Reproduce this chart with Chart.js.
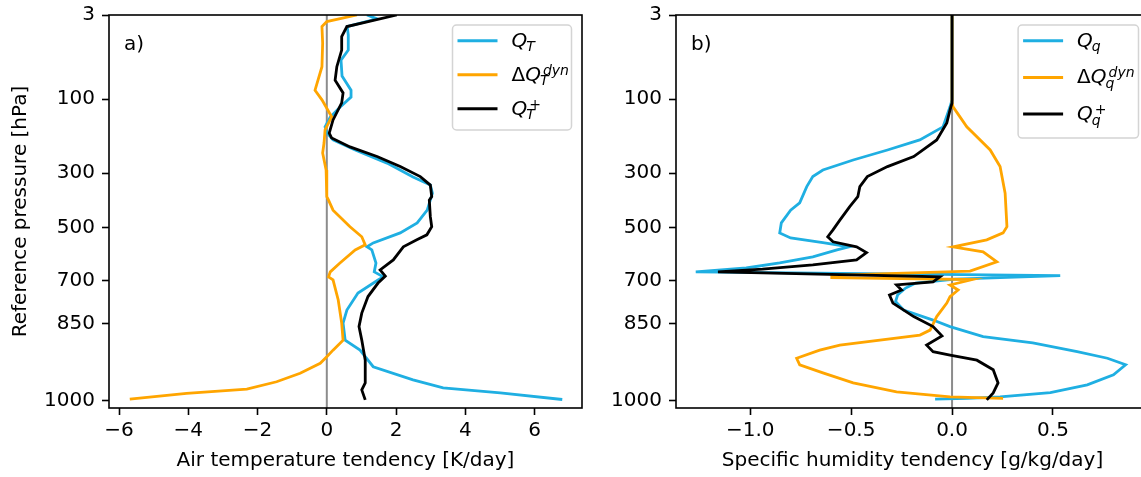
<!DOCTYPE html>
<html>
<head>
<meta charset="utf-8">
<script src="https://cdn.jsdelivr.net/npm/chart.js@4/dist/chart.umd.min.js"></script>
<style>
html,body{margin:0;padding:0;background:#fff;overflow:hidden;}
#wrap{position:relative;width:1141px;height:477px;overflow:hidden;}
canvas{position:absolute;top:0;}
#cA{left:0;}
#cB{left:590px;}
</style>
</head>
<body>
<div id="wrap">
  <canvas id="cA" width="600" height="477"></canvas>
  <canvas id="cB" width="559" height="477"></canvas>
</div>
<script>
// y axis is a model-level coordinate (0 = 3 hPa at top, 100 = 1000 hPa), labelled in hPa
const tickPressures = [3, 100, 300, 500, 700, 850, 1000];
const tickLevels    = [0, 21.8, 41.0, 55.2, 68.9, 80.1, 100];

const xTicksT = [-6, -4, -2, 0, 2, 4, 6];
const xTicksQ = [-1.0, -0.5, 0.0, 0.5];

// a) air temperature tendency [K/day]
const levQT  = [0,1.0,3.0,5.2,9.1,11.7,15.8,19.5,21.3,23.9,26.5,29.0,30.6,32.4,35.0,38.4,42.0,44.1,46.2,50.6,53.9,56.5,59.1,60.1,60.9,64.3,66.6,67.9,68.7,72.1,76.5,79.9,84.3,86.9,91.2,94.6,96.7,98.0,99.7];
const valQT  = [1.16,1.45,0.59,0.62,0.62,0.41,0.44,0.70,0.70,0.38,0.10,-0.05,0.01,0.18,0.82,1.74,2.49,2.99,3.05,2.90,2.61,2.12,1.34,1.16,1.30,1.42,1.37,1.63,1.48,0.90,0.58,0.47,0.53,0.96,1.34,2.49,3.36,5.01,6.80];
const levDT  = [0,1.7,3.0,7.3,13.4,19.5,22.0,26.4,29.8,33.2,35.8,40.2,47.1,48.0,50.6,54.9,57.5,59.6,60.9,64.3,66.6,67.9,68.7,73.9,79.9,84.3,86.9,88.6,90.3,92.9,95.1,97.0,98.1,99.6];
const valDT  = [0.87,0.0,-0.14,-0.12,-0.14,-0.34,-0.14,0.14,-0.05,-0.08,-0.12,-0.02,0.0,0.05,0.18,0.67,1.01,1.11,0.82,0.38,0.10,0.05,0.18,0.33,0.43,0.47,0.18,0.0,-0.19,-0.77,-1.45,-2.31,-4.05,-5.69];
const levQTp = [0,3.0,5.6,9.1,13.4,16.9,20.2,22.8,27.2,30.6,31.9,34.2,36.7,39.3,41.9,44.1,47.1,48.0,52.3,54.9,57.0,58.3,60.1,63.5,66.1,67.7,69.5,73.0,77.3,80.8,84.3,89.5,95.4,97.2,99.8];
const valQTp = [2.02,0.58,0.43,0.43,0.29,0.24,0.47,0.43,0.18,0.07,0.14,0.67,1.45,2.12,2.70,2.99,3.03,2.96,2.99,3.03,2.89,2.60,2.21,1.92,1.54,1.69,1.48,1.19,1.01,0.93,1.01,1.11,1.11,1.01,1.11];

// b) specific humidity tendency [g/kg/day]
const levQq  = [0,22.0,23.8,29.0,32.4,35.0,37.6,40.2,41.9,44.5,48.7,50.6,53.9,56.5,57.8,59.0,60.1,60.9,62.7,64.3,65.6,66.6,67.6,68.5,69.5,70.8,72.6,74.3,76.5,79.1,80.8,83.4,85.0,87.3,89.0,90.7,93.3,95.9,97.9,99.0,99.4,99.6];
const valQq  = [0,0,-0.01,-0.045,-0.16,-0.32,-0.49,-0.64,-0.69,-0.72,-0.755,-0.80,-0.846,-0.854,-0.80,-0.64,-0.51,-0.57,-0.69,-0.854,-1.02,-1.27,0.536,0.015,-0.18,-0.23,-0.27,-0.28,-0.24,-0.094,-0.01,0.154,0.40,0.62,0.77,0.86,0.80,0.67,0.487,0.238,0.073,-0.084];
const levDq  = [0,22.8,23.8,29.0,35.0,39.3,46.2,54.9,56.5,58.3,60.1,61.4,64.0,66.4,67.5,68.1,68.6,70.0,71.3,73.0,74.7,78.2,81.7,83.0,85.6,86.9,89.0,90.7,92.8,95.4,97.7,99.0,99.4];
const valDq  = [0,0,0.005,0.073,0.189,0.238,0.263,0.272,0.253,0.172,0.005,0.154,0.222,0.089,-0.596,-0.596,0.10,-0.01,0.03,-0.01,-0.026,-0.076,-0.109,-0.159,-0.556,-0.656,-0.77,-0.755,-0.64,-0.49,-0.275,-0.01,0.253];
const levQqp = [0,22.8,24.6,28.0,32.4,36.7,39.3,41.9,44.5,47.1,49.7,53.2,55.7,57.5,58.8,60.1,61.6,63.5,64.8,65.9,66.6,67.9,69.2,70.0,71.3,72.6,74.7,78.2,80.8,83.2,85.6,87.3,88.2,89.5,92.0,95.4,98.0,99.8];
const valQqp = [0,0,-0.01,-0.026,-0.076,-0.19,-0.32,-0.42,-0.457,-0.467,-0.507,-0.556,-0.59,-0.616,-0.59,-0.473,-0.424,-0.473,-0.69,-0.94,-1.16,-0.06,-0.094,-0.275,-0.25,-0.31,-0.293,-0.19,-0.094,-0.05,-0.126,-0.094,-0.01,0.123,0.204,0.228,0.204,0.172];

const BLUE = "#1fafe2", ORANGE = "#ffa500", BLACK = "#000000";
const FONT = '"DejaVu Sans"';
Chart.defaults.font.family = FONT;
Chart.defaults.color = "#000";

const minus = s => String(s).replace("-", "\u2212");

// frame, zero line, panel label and a matplotlib-like legend with sub/superscripts
const deco = {
  id: "deco",
  beforeDatasetsDraw(chart) {
    const {ctx, chartArea: ca, scales} = chart;
    const x0 = scales.x.getPixelForValue(0);
    ctx.save();
    ctx.strokeStyle = "#8c8c8c"; ctx.lineWidth = 2;
    ctx.beginPath(); ctx.moveTo(x0, ca.top); ctx.lineTo(x0, ca.bottom); ctx.stroke();
    ctx.restore();
  },
  afterDatasetsDraw(chart, args, o) {
    const {ctx, chartArea: ca} = chart;
    ctx.save();
    ctx.strokeStyle = "#000"; ctx.lineWidth = 1.6;
    ctx.strokeRect(ca.left, ca.top, ca.right - ca.left, ca.bottom - ca.top);

    // panel label
    ctx.fillStyle = "#000";
    ctx.font = "20px " + FONT;
    ctx.textBaseline = "alphabetic";
    ctx.fillText(o.panel, ca.left + 15, ca.top + 35);

    // legend
    const W = o.legW, H = 3 * o.rowGap + 3;
    const bx = ca.right - 10.5 - W, by = ca.top + 10;
    ctx.beginPath();
    ctx.roundRect(bx, by, W, H, 4);
    ctx.fillStyle = "rgba(255,255,255,0.85)"; ctx.fill();
    ctx.strokeStyle = "#d4d4d4"; ctx.lineWidth = 1.5; ctx.stroke();

    const sets = chart.data.datasets.slice().sort((a, b) => a.legendIndex - b.legendIndex);
    sets.forEach((ds, i) => {
      const ry = by + 15.7 + i * o.rowGap;
      ctx.strokeStyle = ds.borderColor; ctx.lineWidth = 3;
      ctx.beginPath(); ctx.moveTo(bx + 5, ry); ctx.lineTo(bx + 45, ry); ctx.stroke();

      const m = ds.label.match(/^(.*?)Q_(\w)(?:\^(.+))?$/);
      const base = ry + 6;
      let x = bx + 59;
      ctx.fillStyle = "#000";
      if (m[1]) {
        ctx.font = "20px " + FONT;
        ctx.fillText(m[1], x, base); x += ctx.measureText(m[1]).width;
      }
      ctx.font = "italic 20px " + FONT;
      ctx.fillText("Q", x, base); x += ctx.measureText("Q").width;
      ctx.font = "italic 14px " + FONT;
      ctx.fillText(m[2], x - 1, base + 4.5);
      if (m[3]) {
        ctx.font = (m[3] === "+" ? "" : "italic ") + "14px " + FONT;
        ctx.fillText(m[3], x + 2, base - 6);
      }
    });
    ctx.restore();
  }
};

function makePanel(id, cfg) {
  return new Chart(document.getElementById(id), {
    type: "scatter",
    data: {
      datasets: cfg.series.map(s => ({
        label: s.label,
        data: s.lev.map((l, i) => ({x: s.val[i], y: l})),
        showLine: true, borderColor: s.color, backgroundColor: s.color,
        borderWidth: 2.8, pointRadius: 0, tension: 0, fill: false,
        order: s.order, legendIndex: s.legendIndex
      }))
    },
    options: {
      responsive: false, animation: false, devicePixelRatio: 1,
      layout: {padding: {top: 15, right: cfg.padRight, bottom: 0, left: 0}},
      plugins: {
        legend: {display: false}, tooltip: {enabled: false},
        deco: {panel: cfg.panel, legW: cfg.legW, rowGap: cfg.rowGap}
      },
      scales: {
        x: {
          type: "linear", min: cfg.xMin, max: cfg.xMax,
          afterBuildTicks: s => { s.ticks = cfg.xTicks.map(v => ({value: v})); },
          afterFit: s => { s.height = 69; },
          ticks: {autoSkip: false, maxRotation: 0, padding: 4, font: {size: 20}, color: "#000",
                  callback: v => minus(cfg.fmt(v))},
          grid: {drawOnChartArea: false, tickLength: 7, tickColor: "#000", tickWidth: 1.6},
          border: {display: false},
          title: {display: true, text: cfg.xTitle, font: {size: 20}, color: "#000", padding: {top: 0, bottom: 4}}
        },
        y: {
          type: "linear", reverse: true, min: 0, max: 101.9,
          afterBuildTicks: s => { s.ticks = tickLevels.map(v => ({value: v})); },
          afterFit: s => { s.width = cfg.yWidth; },
          ticks: {autoSkip: false, padding: 7, font: {size: 20, lineHeight: 0.5}, color: "#000",
                  callback: (v, i) => String(tickPressures[i])},
          grid: {drawOnChartArea: false, tickLength: 7, tickColor: "#000", tickWidth: 1.6},
          border: {display: false},
          title: {display: !!cfg.yTitle, text: cfg.yTitle || "", font: {size: 20}, color: "#000", padding: {top: 9, bottom: 0}}
        }
      }
    },
    plugins: [deco]
  });
}

makePanel("cA", {
  panel: "a)", legW: 119, rowGap: 34,
  xMin: -6.29, xMax: 7.37, xTicks: xTicksT, fmt: v => v,
  xTitle: "Air temperature tendency [K/day]", yTitle: "Reference pressure [hPa]",
  yWidth: 109, padRight: 18,
  series: [
    {label: "Q_T^+",     lev: levQTp, val: valQTp, color: BLACK,  order: 0, legendIndex: 2},
    {label: "\u0394Q_T^dyn", lev: levDT, val: valDT, color: ORANGE, order: 1, legendIndex: 1},
    {label: "Q_T",       lev: levQT,  val: valQT,  color: BLUE,   order: 2, legendIndex: 0}
  ]
});

makePanel("cB", {
  panel: "b)", legW: 120.4, rowGap: 36.7,
  xMin: -1.368, xMax: 0.976, xTicks: xTicksQ, fmt: v => v.toFixed(1),
  xTitle: "Specific humidity tendency [g/kg/day]", yTitle: "",
  yWidth: 86, padRight: 0,
  series: [
    {label: "Q_q^+",     lev: levQqp, val: valQqp, color: BLACK,  order: 0, legendIndex: 2},
    {label: "\u0394Q_q^dyn", lev: levDq, val: valDq, color: ORANGE, order: 1, legendIndex: 1},
    {label: "Q_q",       lev: levQq,  val: valQq,  color: BLUE,   order: 2, legendIndex: 0}
  ]
});
</script>
</body>
</html>
